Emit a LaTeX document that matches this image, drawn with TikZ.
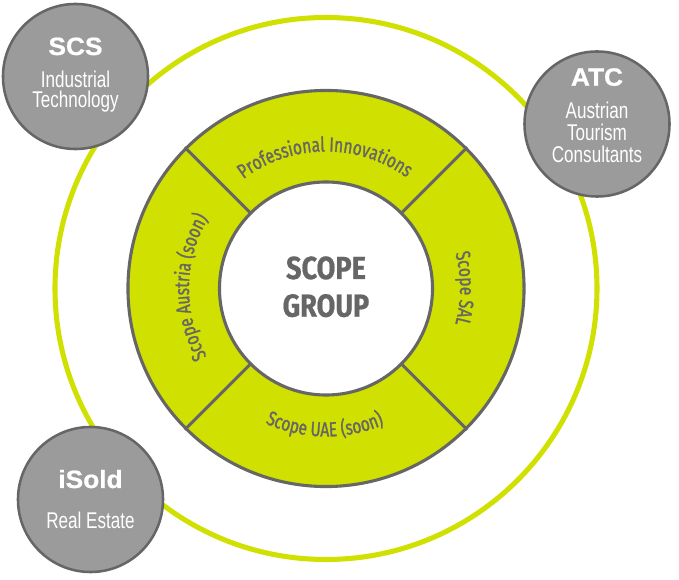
\documentclass[tikz,border=0pt]{standalone}
\usepackage{fontspec}
\setmainfont{Liberation Sans}
\newfontfamily\ringfont[FakeStretch=0.76,FakeBold=1.2]{Fira Sans}
\newfontfamily\groupfont[FakeStretch=0.85,BoldFeatures={FakeBold=0.6}]{Fira Sans}
\newfontfamily\subfont[FakeStretch=0.75]{Liberation Sans}
\newfontfamily\hubfont[FakeStretch=1.05,BoldFeatures={FakeBold=0.8}]{Liberation Sans}
\usetikzlibrary{decorations.text}

\definecolor{limegreen}{HTML}{D0E000}
\definecolor{hubgrey}{HTML}{9B9B9B}
\definecolor{edgegrey}{HTML}{666666}

\tikzset{
  hubcircle/.style={circle, draw=edgegrey, line width=1.8pt, fill=hubgrey, inner sep=0pt, minimum size=3.625cm},
  hubtitle/.style={anchor=base, text=white, font=\hubfont\fontsize{17.8}{20}\selectfont\bfseries},
  hubtext/.style={anchor=base, text=white, font=\subfont\fontsize{16.2}{18}\selectfont},
  grouptext/.style={anchor=base, text=edgegrey, font=\groupfont\fontsize{22.7}{26}\selectfont\bfseries},
  ringlabel/.style={decorate, decoration={text along path, text align=center, text={|\ringfont\fontsize{14.5}{15}\selectfont\color{edgegrey}|#1}}}
}

\begin{document}
\begin{tikzpicture}[x=0.025cm, y=0.025cm]
      \useasboundingbox (0,0) rectangle (679,580);
      \def\orbitsize{271}

      \draw[limegreen, line width=3.6pt] (326,291.5) circle (\orbitsize);

      \node[circle, draw=edgegrey, line width=2.2pt, fill=limegreen, inner sep=0pt, minimum size=9.9cm] (ring) at (326,291.5) {};
      \node[circle, draw=edgegrey, line width=2.2pt, fill=white, inner sep=0pt, minimum size=5.325cm] (core) at (326,291.5) {};
      \foreach \ang in {45,135,225,315}
        \draw[edgegrey, line width=2.2pt] (core.\ang) -- (ring.\ang);

      \node[grouptext] (scope) at (326,301) {SCOPE};
      \node[grouptext] (group) at (326,263.3) {GROUP};

      \begin{scope}[shift={(326,291.5)}]
        \path[ringlabel={Professional Innovations}] (128:137) arc[start angle=128, end angle=53, radius=137];
        \path[ringlabel={Scope SAL}] (17:134) arc[start angle=17, end angle=-17, radius=134];
        \path[ringlabel={Scope UAE  (soon)}] (243:148) arc[start angle=243, end angle=296, radius=148];
        \path[ringlabel={Scope  Austria (soon)}] (211:137) arc[start angle=211, end angle=148, radius=137];
      \end{scope}

      \node[hubcircle] (scs) at (75.5,503.5) {};
      \node[hubcircle] (atc) at (597,456) {};
      \node[hubcircle] (isold) at (90.5,80.5) {};

      \node[hubtitle] (scstitle) at (75.5,525) {SCS};
      \node[hubtext] (scsa) at (75.5,492.7) {Industrial};
      \node[hubtext] (scsb) at (75.5,472.7) {Technology};

      \node[hubtitle] (atctitle) at (597,494.3) {ATC};
      \node[hubtext] (atca) at (597,461) {Austrian};
      \node[hubtext] (atcb) at (597,439.3) {Tourism};
      \node[hubtext] (atcc) at (597,417.3) {Consultants};

      \node[hubtitle] (isoldtitle) at (90.5,92) {iSold};
      \node[hubtext] (isolda) at (90.5,51) {Real Estate};

    \end{tikzpicture}
\end{document}
